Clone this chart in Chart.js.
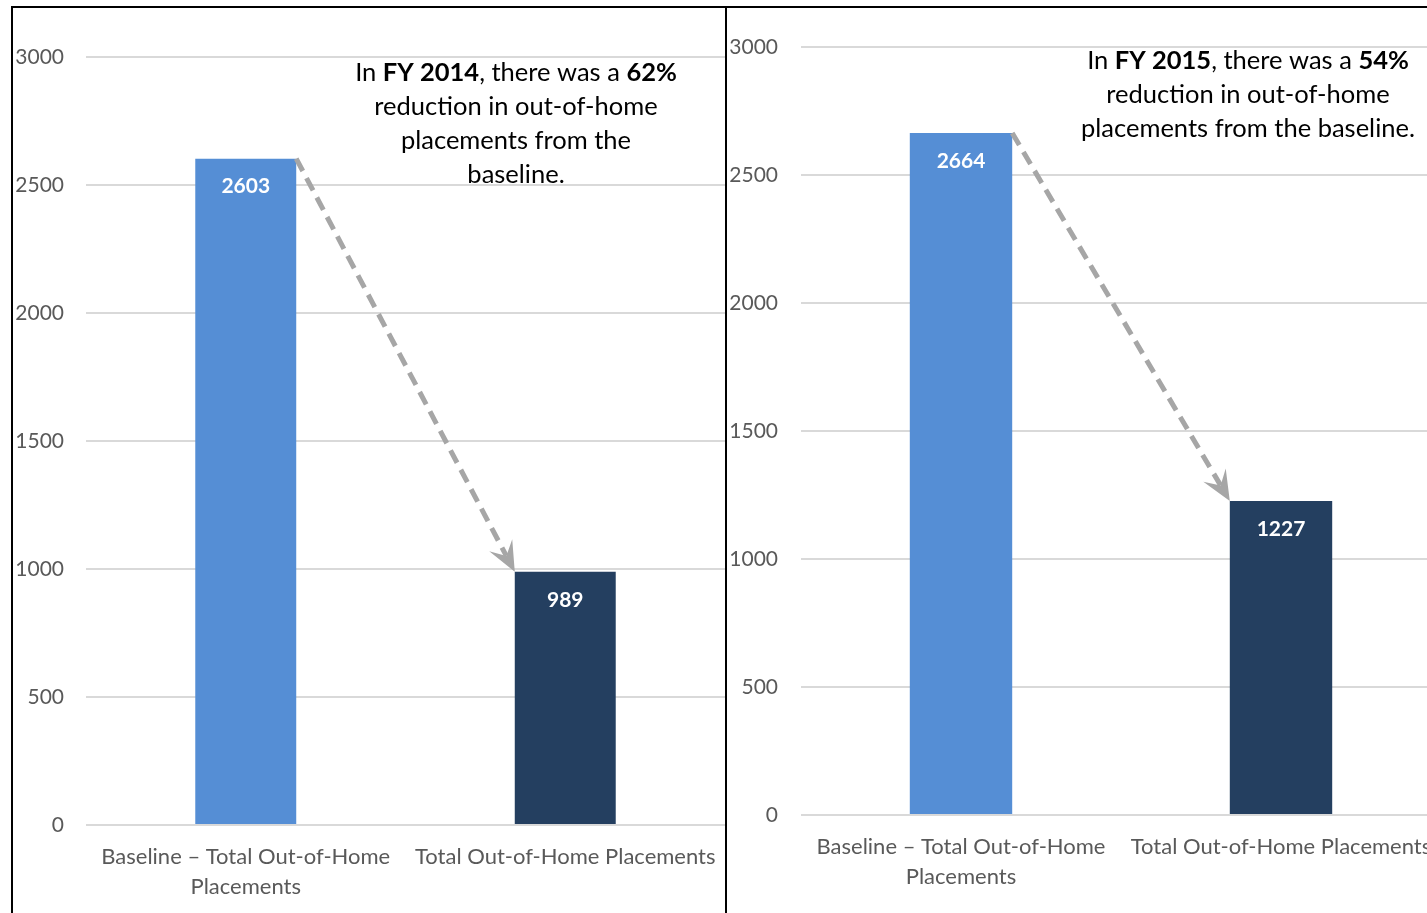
<!DOCTYPE html>
<html>
<head>
<meta charset="utf-8">
<title>Out-of-Home Placements</title>
<script src="https://cdn.jsdelivr.net/npm/chart.js@4.4.1/dist/chart.umd.min.js"></script>
<style>
  html, body { margin: 0; padding: 0; background: #fff; width: 1427px; height: 913px; overflow: hidden; }
  .panel { position: absolute; top: 6px; height: 907px; border-top: 2px solid #000; border-left: 2px solid #000; overflow: hidden; }
  #panel2014 { left: 11px; width: 712px; }
  #panel2015 { left: 725px; width: 714px; }
  canvas { display: block; }
</style>
</head>
<body>
<div class="panel" id="panel2014"><canvas id="chart2014" width="712" height="905"></canvas></div>
<div class="panel" id="panel2015"><canvas id="chart2015" width="714" height="905"></canvas></div>
<script>
// categories and values
var categories = [['Baseline \u2013 Total Out-of-Home', 'Placements'], 'Total Out-of-Home Placements'];
var fy2014Values = [2603, 989];
var fy2015Values = [2664, 1227];
var yMin = 0, yMax = 3000, yStep = 500;

// callout text, as runs of [text, bold]
var fy2014Note = [
    [['In ', false], ['FY 2014', true], [', there was a ', false], ['62%', true]],
    [['reduction in out-of-home', false]],
    [['placements from the', false]],
    [['baseline.', false]]
];
var fy2015Note = [
    [['In ', false], ['FY 2015', true], [', there was a ', false], ['54%', true]],
    [['reduction in out-of-home', false]],
    [['placements from the baseline.', false]]
];

var FONT = 'Lato, "Open Sans", sans-serif';
var BAR_COLORS = ['#558ED5', '#243F60'];

// white value inside the top of each bar
var barValues = {
    id: 'barValues',
    afterDatasetsDraw: function(chart) {
        var ctx = chart.ctx;
        var ds = chart.data.datasets[0];
        ctx.save();
        ctx.fillStyle = '#fff';
        ctx.font = 'bold 21px ' + FONT;
        ctx.textAlign = 'center';
        ctx.textBaseline = 'middle';
        chart.getDatasetMeta(0).data.forEach(function(bar, i) {
            ctx.fillText(ds.data[i], bar.x, bar.y + 28);
        });
        ctx.restore();
    }
};

// dashed arrow from the baseline bar corner to the second bar corner
var dropArrow = {
    id: 'dropArrow',
    afterDatasetsDraw: function(chart) {
        var bars = chart.getDatasetMeta(0).data;
        var x1 = bars[0].x + bars[0].width / 2, y1 = bars[0].y;
        var x2 = bars[1].x - bars[1].width / 2, y2 = bars[1].y;
        var ang = Math.atan2(y2 - y1, x2 - x1);
        var headLen = 30, headHalf = 13, notch = 18;
        var ctx = chart.ctx;
        ctx.save();
        ctx.strokeStyle = '#A6A6A6';
        ctx.fillStyle = '#A6A6A6';
        ctx.lineWidth = 5;
        ctx.setLineDash([14, 8]);
        ctx.beginPath();
        ctx.moveTo(x1, y1);
        ctx.lineTo(x2 - Math.cos(ang) * notch, y2 - Math.sin(ang) * notch);
        ctx.stroke();
        ctx.setLineDash([]);
        var bx = x2 - Math.cos(ang) * headLen, by = y2 - Math.sin(ang) * headLen;
        var nx = x2 - Math.cos(ang) * notch, ny = y2 - Math.sin(ang) * notch;
        ctx.beginPath();
        ctx.moveTo(x2, y2);
        ctx.lineTo(bx + Math.sin(ang) * headHalf, by - Math.cos(ang) * headHalf);
        ctx.lineTo(nx, ny);
        ctx.lineTo(bx - Math.sin(ang) * headHalf, by + Math.cos(ang) * headHalf);
        ctx.closePath();
        ctx.fill();
        ctx.restore();
    }
};

// centred multi-line note with bold runs
var noteText = {
    id: 'noteText',
    afterDraw: function(chart, args, opts) {
        if (!opts.lines) return;
        var ctx = chart.ctx;
        ctx.save();
        ctx.fillStyle = '#000';
        ctx.textBaseline = 'middle';
        ctx.textAlign = 'left';
        opts.lines.forEach(function(runs, li) {
            var total = 0;
            runs.forEach(function(r) {
                ctx.font = (r[1] ? 'bold ' : '') + opts.size + 'px ' + FONT;
                total += ctx.measureText(r[0]).width;
            });
            var x = opts.x - total / 2;
            var y = opts.y + li * opts.lineHeight;
            runs.forEach(function(r) {
                ctx.font = (r[1] ? 'bold ' : '') + opts.size + 'px ' + FONT;
                ctx.fillText(r[0], x, y);
                x += ctx.measureText(r[0]).width;
            });
        });
        ctx.restore();
    }
};

function zeichneChart(id, values, note, cfg) {
    var ctx = document.getElementById(id).getContext('2d');
    return new Chart(ctx, {
        type: 'bar',
        data: {
            labels: categories,
            datasets: [{ data: values, backgroundColor: BAR_COLORS, borderWidth: 0, categoryPercentage: 1, barPercentage: cfg.barPct }]
        },
        options: {
            responsive: false, animation: false, devicePixelRatio: 1,
            layout: { padding: { top: cfg.top, left: 0, right: 0, bottom: 0 } },
            plugins: {
                legend: { display: false }, tooltip: { enabled: false },
                noteText: { lines: note, x: cfg.noteX, y: cfg.noteY, lineHeight: 34, size: 25.5 }
            },
            scales: {
                y: {
                    min: yMin, max: yMax,
                    ticks: { stepSize: yStep, padding: cfg.tickPad, color: '#595959', font: { family: FONT, size: 21 },
                        callback: function(v) { return String(v); } },
                    grid: { color: '#D9D9D9', lineWidth: 2, drawTicks: false },
                    border: { display: false },
                    afterFit: function(s) { s.width = cfg.axisW; }
                },
                x: {
                    ticks: { color: '#595959', padding: 17, maxRotation: 0, autoSkip: false, font: { family: FONT, size: 22, lineHeight: 1.36 } },
                    grid: { display: false, drawTicks: false },
                    border: { display: false },
                    afterFit: function(s) { s.height = cfg.axisH; s.paddingLeft = 0; s.paddingRight = 0; }
                }
            }
        },
        plugins: [barValues, dropArrow, noteText]
    });
}

zeichneChart('chart2014', fy2014Values, fy2014Note, { top: 49, axisW: 73, axisH: 88, tickPad: 22, barPct: 0.316, noteX: 503, noteY: 65 });
zeichneChart('chart2015', fy2015Values, fy2015Note, { top: 39, axisW: 74, axisH: 98, tickPad: 23, barPct: 0.32, noteX: 521, noteY: 53 });
</script>
</body>
</html>
